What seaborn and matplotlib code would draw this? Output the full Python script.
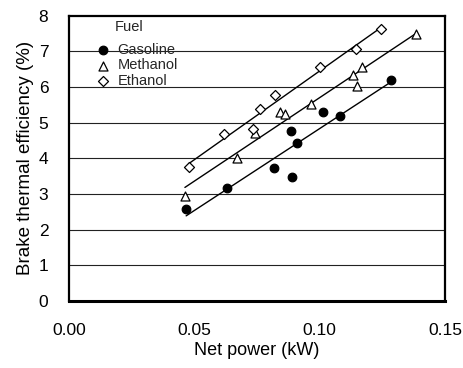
import numpy as np
import pandas as pd
import seaborn as sns
import matplotlib.pyplot as plt

# Data
gasoline_x = [0.0467, 0.0629, 0.0819, 0.0886, 0.0888, 0.0911, 0.1012, 0.1081, 0.1284]
gasoline_y = [2.57, 3.17, 3.73, 4.78, 3.47, 4.43, 5.30, 5.20, 6.19]

methanol_x = [0.0462, 0.0669, 0.0742, 0.0842, 0.0862, 0.0964, 0.1134, 0.1147, 0.1170, 0.1383]
methanol_y = [2.95, 4.01, 4.71, 5.29, 5.24, 5.52, 6.33, 6.02, 6.56, 7.50]

ethanol_x = [0.0477, 0.0618, 0.0733, 0.0762, 0.0822, 0.1002, 0.1145, 0.1245]
ethanol_y = [3.75, 4.68, 4.82, 5.38, 5.77, 6.57, 7.08, 7.63]

fuels = ['Gasoline', 'Methanol', 'Ethanol']
markers = {'Gasoline': 'o', 'Methanol': '^', 'Ethanol': 'D'}
faces = {'Gasoline': 'black', 'Methanol': 'white', 'Ethanol': 'white'}
sizes = {'Gasoline': 38, 'Methanol': 42, 'Ethanol': 26}

df = pd.concat([
    pd.DataFrame({'power': gasoline_x, 'eff': gasoline_y, 'fuel': 'Gasoline'}),
    pd.DataFrame({'power': methanol_x, 'eff': methanol_y, 'fuel': 'Methanol'}),
    pd.DataFrame({'power': ethanol_x, 'eff': ethanol_y, 'fuel': 'Ethanol'}),
])

sns.set_style('white')
plt.rcParams['font.family'] = ['Liberation Sans', 'DejaVu Sans']

fig = plt.figure(figsize=(4.64, 3.68), dpi=100)
ax = fig.add_axes([0.149, 0.182, 0.810, 0.775])

# horizontal gridlines
for yv in range(1, 8):
    ax.axhline(yv, color='#222222', lw=0.8, zorder=0)

# fitted lines, truncated to each series' range
for fuel in fuels:
    sub = df[df['fuel'] == fuel]
    sns.regplot(data=sub, x='power', y='eff', ax=ax, scatter=False, ci=None,
                truncate=True, color='black', line_kws={'lw': 1.0, 'zorder': 2})

# markers
for fuel in fuels:
    sub = df[df['fuel'] == fuel]
    sns.scatterplot(data=sub, x='power', y='eff', ax=ax, marker=markers[fuel],
                    color=faces[fuel], edgecolor='black', linewidth=0.9,
                    s=sizes[fuel], label=fuel, zorder=3)

ax.set_xlim(0, 0.15)
ax.set_ylim(0, 8)
ax.set_xticks([0.0, 0.05, 0.10, 0.15])
ax.set_xticklabels(['0.00', '0.05', '0.10', '0.15'])
ax.set_yticks(range(0, 9))
ax.tick_params(axis='x', direction='in', length=4, width=1, pad=16, labelsize=12.5, colors='black')
ax.tick_params(axis='y', length=0, pad=15, labelsize=12.5, colors='black')

ax.set_xlabel('Net power (kW)', fontsize=13, labelpad=3, color='black')
ax.set_ylabel('Brake thermal efficiency (%)', fontsize=13.5, labelpad=3, color='black')

for side in ['left', 'right', 'top']:
    ax.spines[side].set_color('black')
    ax.spines[side].set_linewidth(1.6)
ax.spines['bottom'].set_color('black')
ax.spines['bottom'].set_linewidth(2.2)

ax.text(0.122, 0.985, 'Fuel', transform=ax.transAxes, fontsize=10.5, va='top', ha='left')
leg = ax.legend(loc='upper left', bbox_to_anchor=(0.074, 0.905), frameon=False,
                fontsize=10.5, handlelength=0.8, handletextpad=0.6, labelspacing=0.1,
                borderaxespad=0, borderpad=0)

fig.savefig('out.png', dpi=100)
